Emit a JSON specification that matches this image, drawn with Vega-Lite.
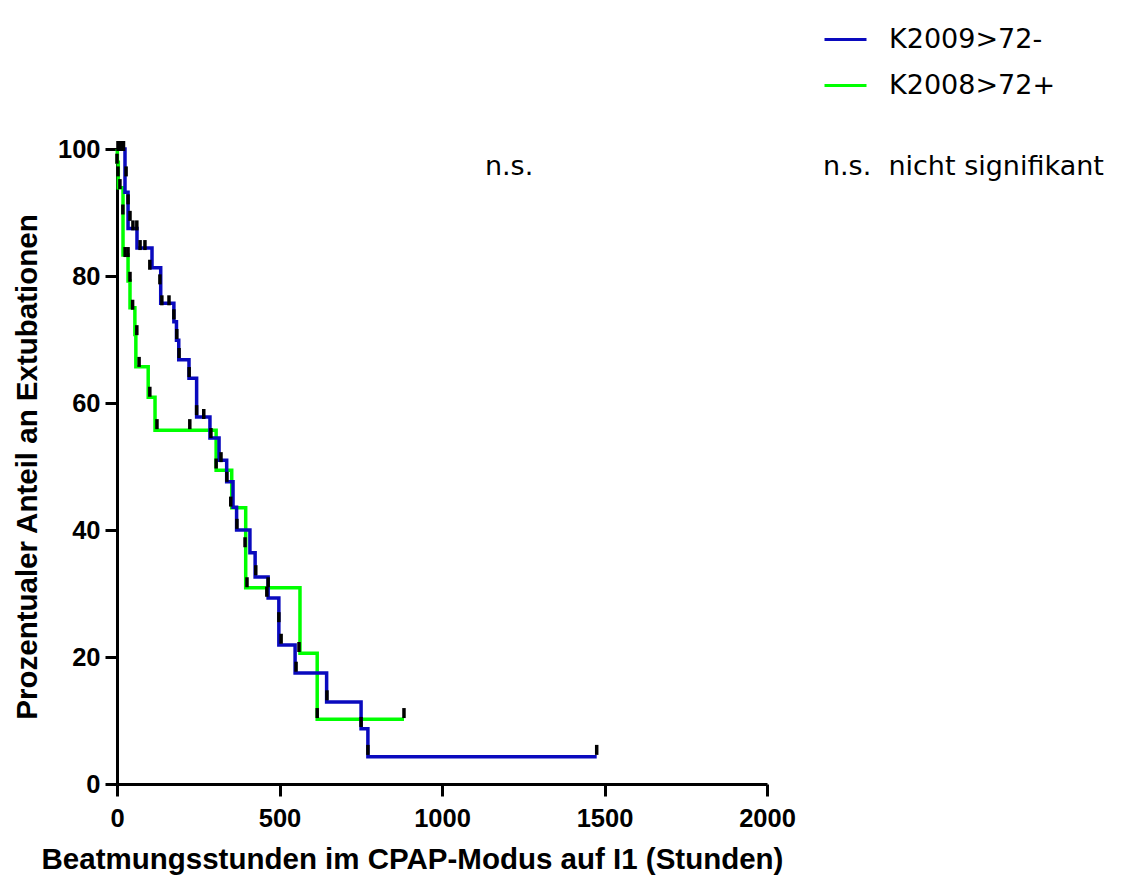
{
  "$schema": "https://vega.github.io/schema/vega-lite/v6.json",
  "width": 650,
  "height": 635,
  "autosize": "none",
  "padding": {"left": 117, "top": 149, "right": 357, "bottom": 92},
  "background": "white",
  "config": {
    "view": {"stroke": null},
    "font": "Liberation Sans",
    "axis": {
      "grid": false,
      "domainColor": "black",
      "domainWidth": 3,
      "tickColor": "black",
      "tickWidth": 3,
      "tickSize": 12,
      "labelColor": "black",
      "labelFont": "Liberation Sans",
      "labelFontSize": 25.5,
      "labelFontWeight": "bold",
      "titleColor": "black",
      "titleFont": "Liberation Sans",
      "titleFontSize": 29.5,
      "titleFontWeight": "bold",
      "labelFlush": false,
      "labelBound": false,
      "labelOverlap": false
    }
  },
  "datasets": {
    "curves": [
      {"group": "K2009>72-", "t": 0, "pct": 100},
      {"group": "K2009>72-", "t": 24.6, "pct": 93.2},
      {"group": "K2009>72-", "t": 34, "pct": 87.5},
      {"group": "K2009>72-", "t": 61.5, "pct": 84.4},
      {"group": "K2009>72-", "t": 107.7, "pct": 81.3},
      {"group": "K2009>72-", "t": 134.5, "pct": 75.7},
      {"group": "K2009>72-", "t": 175, "pct": 72.8},
      {"group": "K2009>72-", "t": 183, "pct": 69.9},
      {"group": "K2009>72-", "t": 190, "pct": 66.8},
      {"group": "K2009>72-", "t": 221.5, "pct": 63.9},
      {"group": "K2009>72-", "t": 245, "pct": 57.8},
      {"group": "K2009>72-", "t": 286, "pct": 54.5},
      {"group": "K2009>72-", "t": 314, "pct": 51.0},
      {"group": "K2009>72-", "t": 337.5, "pct": 47.6},
      {"group": "K2009>72-", "t": 357, "pct": 43.6},
      {"group": "K2009>72-", "t": 368, "pct": 40.0},
      {"group": "K2009>72-", "t": 409, "pct": 36.4},
      {"group": "K2009>72-", "t": 425, "pct": 32.6},
      {"group": "K2009>72-", "t": 465, "pct": 29.3},
      {"group": "K2009>72-", "t": 498, "pct": 21.9},
      {"group": "K2009>72-", "t": 548, "pct": 17.5},
      {"group": "K2009>72-", "t": 645, "pct": 12.9},
      {"group": "K2009>72-", "t": 751, "pct": 8.7},
      {"group": "K2009>72-", "t": 772, "pct": 4.3},
      {"group": "K2009>72-", "t": 1476, "pct": 4.3},
      {"group": "K2008>72+", "t": 0, "pct": 100},
      {"group": "K2008>72+", "t": 1, "pct": 97.9},
      {"group": "K2008>72+", "t": 4, "pct": 93.9},
      {"group": "K2008>72+", "t": 18.5, "pct": 83.3},
      {"group": "K2008>72+", "t": 34, "pct": 79.2},
      {"group": "K2008>72+", "t": 40, "pct": 75.0},
      {"group": "K2008>72+", "t": 55, "pct": 70.8},
      {"group": "K2008>72+", "t": 58, "pct": 65.7},
      {"group": "K2008>72+", "t": 96, "pct": 60.9},
      {"group": "K2008>72+", "t": 117, "pct": 55.7},
      {"group": "K2008>72+", "t": 305, "pct": 49.4},
      {"group": "K2008>72+", "t": 353, "pct": 43.5},
      {"group": "K2008>72+", "t": 396, "pct": 30.9},
      {"group": "K2008>72+", "t": 563, "pct": 20.6},
      {"group": "K2008>72+", "t": 616, "pct": 10.2},
      {"group": "K2008>72+", "t": 883, "pct": 10.2}
    ],
    "censor": [
      {"t": 3, "pct": 100}, {"t": 10, "pct": 100}, {"t": 20, "pct": 100},
      {"t": 28, "pct": 96}, {"t": 34, "pct": 91.6}, {"t": 40, "pct": 89},
      {"t": 49, "pct": 87.5}, {"t": 61, "pct": 87.5}, {"t": 71, "pct": 84.4},
      {"t": 86, "pct": 84.4}, {"t": 101, "pct": 81.3}, {"t": 132, "pct": 79},
      {"t": 138, "pct": 75.7}, {"t": 160, "pct": 75.7}, {"t": 175, "pct": 73.5},
      {"t": 184, "pct": 70.4}, {"t": 191, "pct": 67.4}, {"t": 222, "pct": 64.4},
      {"t": 245, "pct": 58.4}, {"t": 267, "pct": 57.8}, {"t": 289, "pct": 54.8},
      {"t": 320, "pct": 51.0}, {"t": 338, "pct": 47.9}, {"t": 369, "pct": 40.5},
      {"t": 427, "pct": 33.2}, {"t": 465, "pct": 31.3}, {"t": 461, "pct": 29.8},
      {"t": 498, "pct": 25.8}, {"t": 505, "pct": 22.4}, {"t": 551, "pct": 18},
      {"t": 646, "pct": 13.5}, {"t": 751, "pct": 9.3}, {"t": 772, "pct": 4.9},
      {"t": 1476, "pct": 4.9},
      {"t": 0, "pct": 98}, {"t": 3, "pct": 96}, {"t": 9, "pct": 94},
      {"t": 18, "pct": 90}, {"t": 25, "pct": 83.3}, {"t": 34, "pct": 83.3},
      {"t": 40, "pct": 79.4}, {"t": 48, "pct": 75}, {"t": 61, "pct": 71},
      {"t": 68, "pct": 66}, {"t": 101, "pct": 61.3}, {"t": 123, "pct": 56.2},
      {"t": 224, "pct": 56.2}, {"t": 305, "pct": 50}, {"t": 350, "pct": 44},
      {"t": 394, "pct": 37.6}, {"t": 400, "pct": 31.3}, {"t": 560, "pct": 21.1},
      {"t": 616, "pct": 10.7}, {"t": 883, "pct": 10.7}
    ],
    "notes": [
      {"t": 1132, "pct": 97.2, "label": "n.s."},
      {"t": 2172, "pct": 97.2, "label": "n.s.\u00a0 nicht signifikant"}
    ]
  },
  "layer": [
    {
      "data": {"name": "curves"},
      "transform": [{"filter": "datum.group === 'K2008>72+'"}],
      "mark": {"type": "line", "interpolate": "step-after", "strokeWidth": 3.5},
      "encoding": {
        "x": {
          "field": "t", "type": "quantitative",
          "scale": {"domain": [0, 2000], "nice": false, "zero": true},
          "axis": {
            "values": [0, 500, 1000, 1500, 2000],
            "format": "d",
            "title": "Beatmungsstunden im CPAP-Modus auf I1 (Stunden)",
            "labelPadding": 10,
            "titleX": 295,
            "titleY": 75,
            "titleAlign": "center",
            "titleBaseline": "middle"
          }
        },
        "y": {
          "field": "pct", "type": "quantitative",
          "scale": {"domain": [0, 100], "nice": false},
          "axis": {
            "values": [0, 20, 40, 60, 80, 100],
            "title": "Prozentualer Anteil an Extubationen",
            "labelPadding": 5,
            "titleX": -90,
            "titleBaseline": "middle"
          }
        },
        "color": {
          "field": "group", "type": "nominal",
          "scale": {"domain": ["K2009>72-", "K2008>72+"], "range": ["#0A0ABE", "#00FF00"]},
          "legend": {
            "orient": "none",
            "legendX": 706,
            "legendY": -132,
            "title": null,
            "symbolType": "stroke",
            "symbolStrokeWidth": 3,
            "symbolSize": 1764,
            "labelFontSize": 27,
            "labelFont": "DejaVu Sans",
            "labelColor": "black",
            "labelOffset": 21,
            "labelLimit": 400,
            "rowPadding": 10
          }
        }
      }
    },
    {
      "data": {"name": "curves"},
      "transform": [{"filter": "datum.group === 'K2009>72-'"}],
      "mark": {"type": "line", "interpolate": "step-after", "strokeWidth": 3.5},
      "encoding": {
        "x": {"field": "t", "type": "quantitative"},
        "y": {"field": "pct", "type": "quantitative"},
        "color": {"field": "group", "type": "nominal"}
      }
    },
    {
      "data": {"name": "censor"},
      "mark": {"type": "tick", "orient": "vertical", "color": "black", "size": 10, "thickness": 3.5, "yOffset": -3, "opacity": 1},
      "encoding": {
        "x": {"field": "t", "type": "quantitative"},
        "y": {"field": "pct", "type": "quantitative"}
      }
    },
    {
      "data": {"name": "notes"},
      "mark": {"type": "text", "align": "left", "baseline": "middle", "fontSize": 27, "font": "DejaVu Sans", "color": "black"},
      "encoding": {
        "x": {"field": "t", "type": "quantitative"},
        "y": {"field": "pct", "type": "quantitative"},
        "text": {"field": "label"}
      }
    }
  ]
}
